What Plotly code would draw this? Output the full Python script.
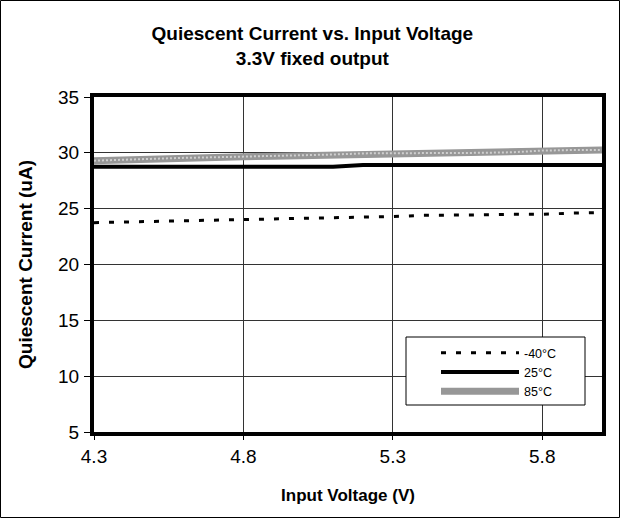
import plotly.graph_objects as go

voltage = [4.3, 4.4, 4.5, 4.6, 4.7, 4.8, 4.9, 5.0, 5.1, 5.2, 5.3, 5.4, 5.5, 5.6, 5.7, 5.8, 5.9, 6.0]
i_m40 = [23.75, 23.8, 23.9, 23.95, 24.0, 24.05, 24.1, 24.15, 24.2, 24.25, 24.3, 24.4, 24.4, 24.45, 24.5, 24.5, 24.6, 24.65]
i_25 = [28.75, 28.75, 28.75, 28.75, 28.75, 28.75, 28.75, 28.75, 28.75, 28.9, 28.9, 28.9, 28.9, 28.9, 28.9, 28.9, 28.9, 28.9]
i_85 = [29.3, 29.4, 29.5, 29.55, 29.6, 29.65, 29.7, 29.75, 29.85, 29.95, 29.95, 29.95, 29.95, 30.0, 30.05, 30.2, 30.25, 30.25]
names = ["-40°C", "25°C", "85°C"]
x_ticks = [4.3, 4.8, 5.3, 5.8]
y_ticks = [5, 10, 15, 20, 25, 30, 35]

W, H = 621, 519
ML, MR, MT, MB = 94, 19, 97, 87
pw, ph = W - ML - MR, H - MT - MB

def px_x(p):
    return (p - ML) / pw

def px_y(p):
    return (H - MB - p) / ph

fig = go.Figure()
fig.add_trace(go.Scatter(x=voltage, y=i_85, name=names[2], mode="lines",
                         line=dict(color="#979797", width=7)))
fig.add_trace(go.Scatter(x=voltage, y=i_85, showlegend=False, mode="lines", hoverinfo="skip",
                         line=dict(color="#cfcfcf", width=2, dash="2px,2px")))
fig.add_trace(go.Scatter(x=voltage, y=i_25, name=names[1], mode="lines",
                         line=dict(color="black", width=4)))
fig.add_trace(go.Scatter(x=voltage, y=i_m40, name=names[0], mode="lines",
                         line=dict(color="black", width=3, dash="5px,10px")))

font = "Arial, Liberation Sans, sans-serif"
fig.update_layout(
    width=W, height=H,
    margin=dict(l=ML, r=MR, t=MT, b=MB, autoexpand=False),
    paper_bgcolor="white", plot_bgcolor="white",
    font=dict(family=font, color="black"),
    title=dict(text="<b>Quiescent Current vs. Input Voltage<br>3.3V fixed output</b>",
               x=0.503, xanchor="center", y=1 - 40 / H, yanchor="top",
               font=dict(size=19, family=font, color="black")),
    xaxis=dict(range=[4.3, 6.0], tickvals=x_ticks, ticktext=[str(v) for v in x_ticks],
               showgrid=True, gridcolor="#333333", gridwidth=1,
               showline=True, linecolor="black", linewidth=4, mirror=True,
               ticks="outside", ticklen=4, tickcolor="black",
               tickfont=dict(size=19), zeroline=False, automargin=False,
               title=dict(text="<b>Input Voltage (V)</b>", font=dict(size=17), standoff=24)),
    yaxis=dict(range=[5, 35], tickvals=y_ticks,
               showgrid=True, gridcolor="#333333", gridwidth=1,
               showline=True, linecolor="black", linewidth=4, mirror=True,
               ticks="outside", ticklen=6, tickcolor="black", ticklabelstandoff=1,
               tickfont=dict(size=19), zeroline=False, automargin=False,
               title=dict(text="<b>Quiescent Current (uA)</b>", font=dict(size=19), standoff=21)),
    legend=dict(x=px_x(436), xanchor="left", y=px_y(338), yanchor="top",
                bgcolor="rgba(0,0,0,0)", borderwidth=0,
                font=dict(size=12.5), itemwidth=78, traceorder="reversed",
                tracegroupgap=0),
    showlegend=True,
)
# legend frame
fig.add_shape(type="rect", xref="paper", yref="paper",
              x0=px_x(406), x1=px_x(585), y0=px_y(405), y1=px_y(337),
              line=dict(color="black", width=1), fillcolor="white", layer="above")
# outer chart border
fig.add_shape(type="rect", xref="paper", yref="paper",
              x0=px_x(0.5), x1=px_x(W - 1.5), y0=px_y(H - 1.5), y1=px_y(0.5),
              line=dict(color="black", width=1), layer="below")
fig.write_html("out.html", config={"displayModeBar": False},
               post_script="document.body.style.margin='0';")
